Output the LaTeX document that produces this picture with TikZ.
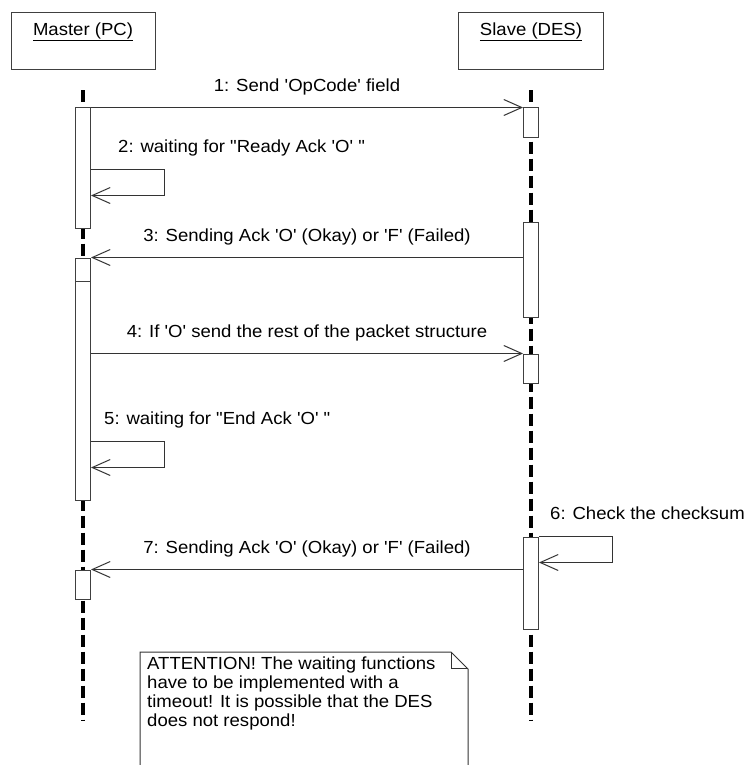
\documentclass[tikz,border=0pt]{standalone}
\usepackage{fontspec}
\newfontfamily\umlfont{Liberation Sans}[FakeStretch=1.06]
\usetikzlibrary{arrows.meta,calc}

\begin{document}
\begin{tikzpicture}[x=1pt,y=-1pt,every node/.style={font=\umlfont\fontsize{17.5}{19}\selectfont}]
    \tikzset{
      actor/.style={draw=black!75,line width=1pt,minimum width=144pt,
        minimum height=57pt,inner sep=0pt},
      actorname/.style={anchor=base,inner sep=0pt},
      life/.style={line width=3.5pt,dash pattern=on 12pt off 5pt},
      act/.style={draw=black!75,fill=white,line width=1pt,
        minimum width=15pt,inner sep=0pt},
      msg/.style={line width=0.9pt,draw=black!80,
        -{Straight Barb[length=18pt,width=16pt,line width=1pt]}},
      lbl/.style={anchor=base,inner sep=0pt},
      notebox/.style={line width=1pt,draw=black!80}
    }
    \newcommand{\lifebar}[4]{%
      \node[act,minimum height={#4-#3}] (#1) at (#2,{(#3+#4)/2}) {};
    }
    \newcommand{\selfcall}[3]{%
      \draw[msg] (#1) -- ++(73,0) -- ++(0,26) -- ++(-73,0);
      \node[lbl,anchor=base west] at ($(#1)+(#2,-17)$) {#3};
    }
    \useasboundingbox (0,0) rectangle (746,765);

    \node[actor] (master) at (83,41.5) {};
    \node[actorname] (mastername) at ([yshift=-23pt]master.north) {\underline{Master (PC)}};
    \node[actor,minimum width=145pt] (slave) at (531,41.5) {};
    \node[actorname] (slavename) at ([yshift=-23pt]slave.north) {\underline{Slave (DES)}};

    \draw[life] ([yshift=-20pt]master.south) -- ++(0,630);
    \draw[life] ([yshift=-20pt]slave.south) -- ++(0,630);

    \lifebar{ma}{83}{108}{228}
    \lifebar{mb}{83}{258}{281}
    \lifebar{mc}{83}{281}{500}
    \lifebar{md}{83}{570}{599}
    \lifebar{sa}{531}{108}{137}
    \lifebar{sb}{531}{222}{317}
    \lifebar{sc}{531}{354}{383}
    \lifebar{sd}{531}{537}{629}

    \draw[msg] (ma.north east) --
      node[lbl,yshift=16pt] {1: Send 'OpCode' field} (sa.north west);
    \coordinate (w2) at ([yshift=-62pt]ma.north east);
    \selfcall{w2}{27}{2: waiting for "Ready Ack 'O' "}
    \draw[msg] (sb.west |- mb.north) --
      node[lbl,yshift=16pt] {3: Sending Ack 'O' (Okay) or 'F' (Failed)} (mb.north east);
    \draw[msg] (mc.east |- sc.north) --
      node[lbl,yshift=16pt] {4: If 'O' send the rest of the packet structure} (sc.north west);
    \coordinate (w5) at ([yshift=-161pt]mc.north east);
    \selfcall{w5}{13}{5: waiting for "End Ack 'O' "}
    \selfcall{sd.north east}{11}{6: Check the checksum}
    \draw[msg] (sd.west |- md.north) --
      node[lbl,yshift=16pt] {7: Sending Ack 'O' (Okay) or 'F' (Failed)} (md.north east);

    % note
    \draw[notebox,fill=white] (140,767) -- (140,652) -- (451,652) -- (468,669) -- (468,767);
    \draw[notebox] (451,652) -- (451,668) -- (468,668);
    \node[inner sep=0pt,anchor=north west,align=left] (note) at (147,657)
      {ATTENTION! The waiting functions\\have to be implemented with a\\
      timeout! It is possible that the DES\\does not respond!};
\end{tikzpicture}
\end{document}
